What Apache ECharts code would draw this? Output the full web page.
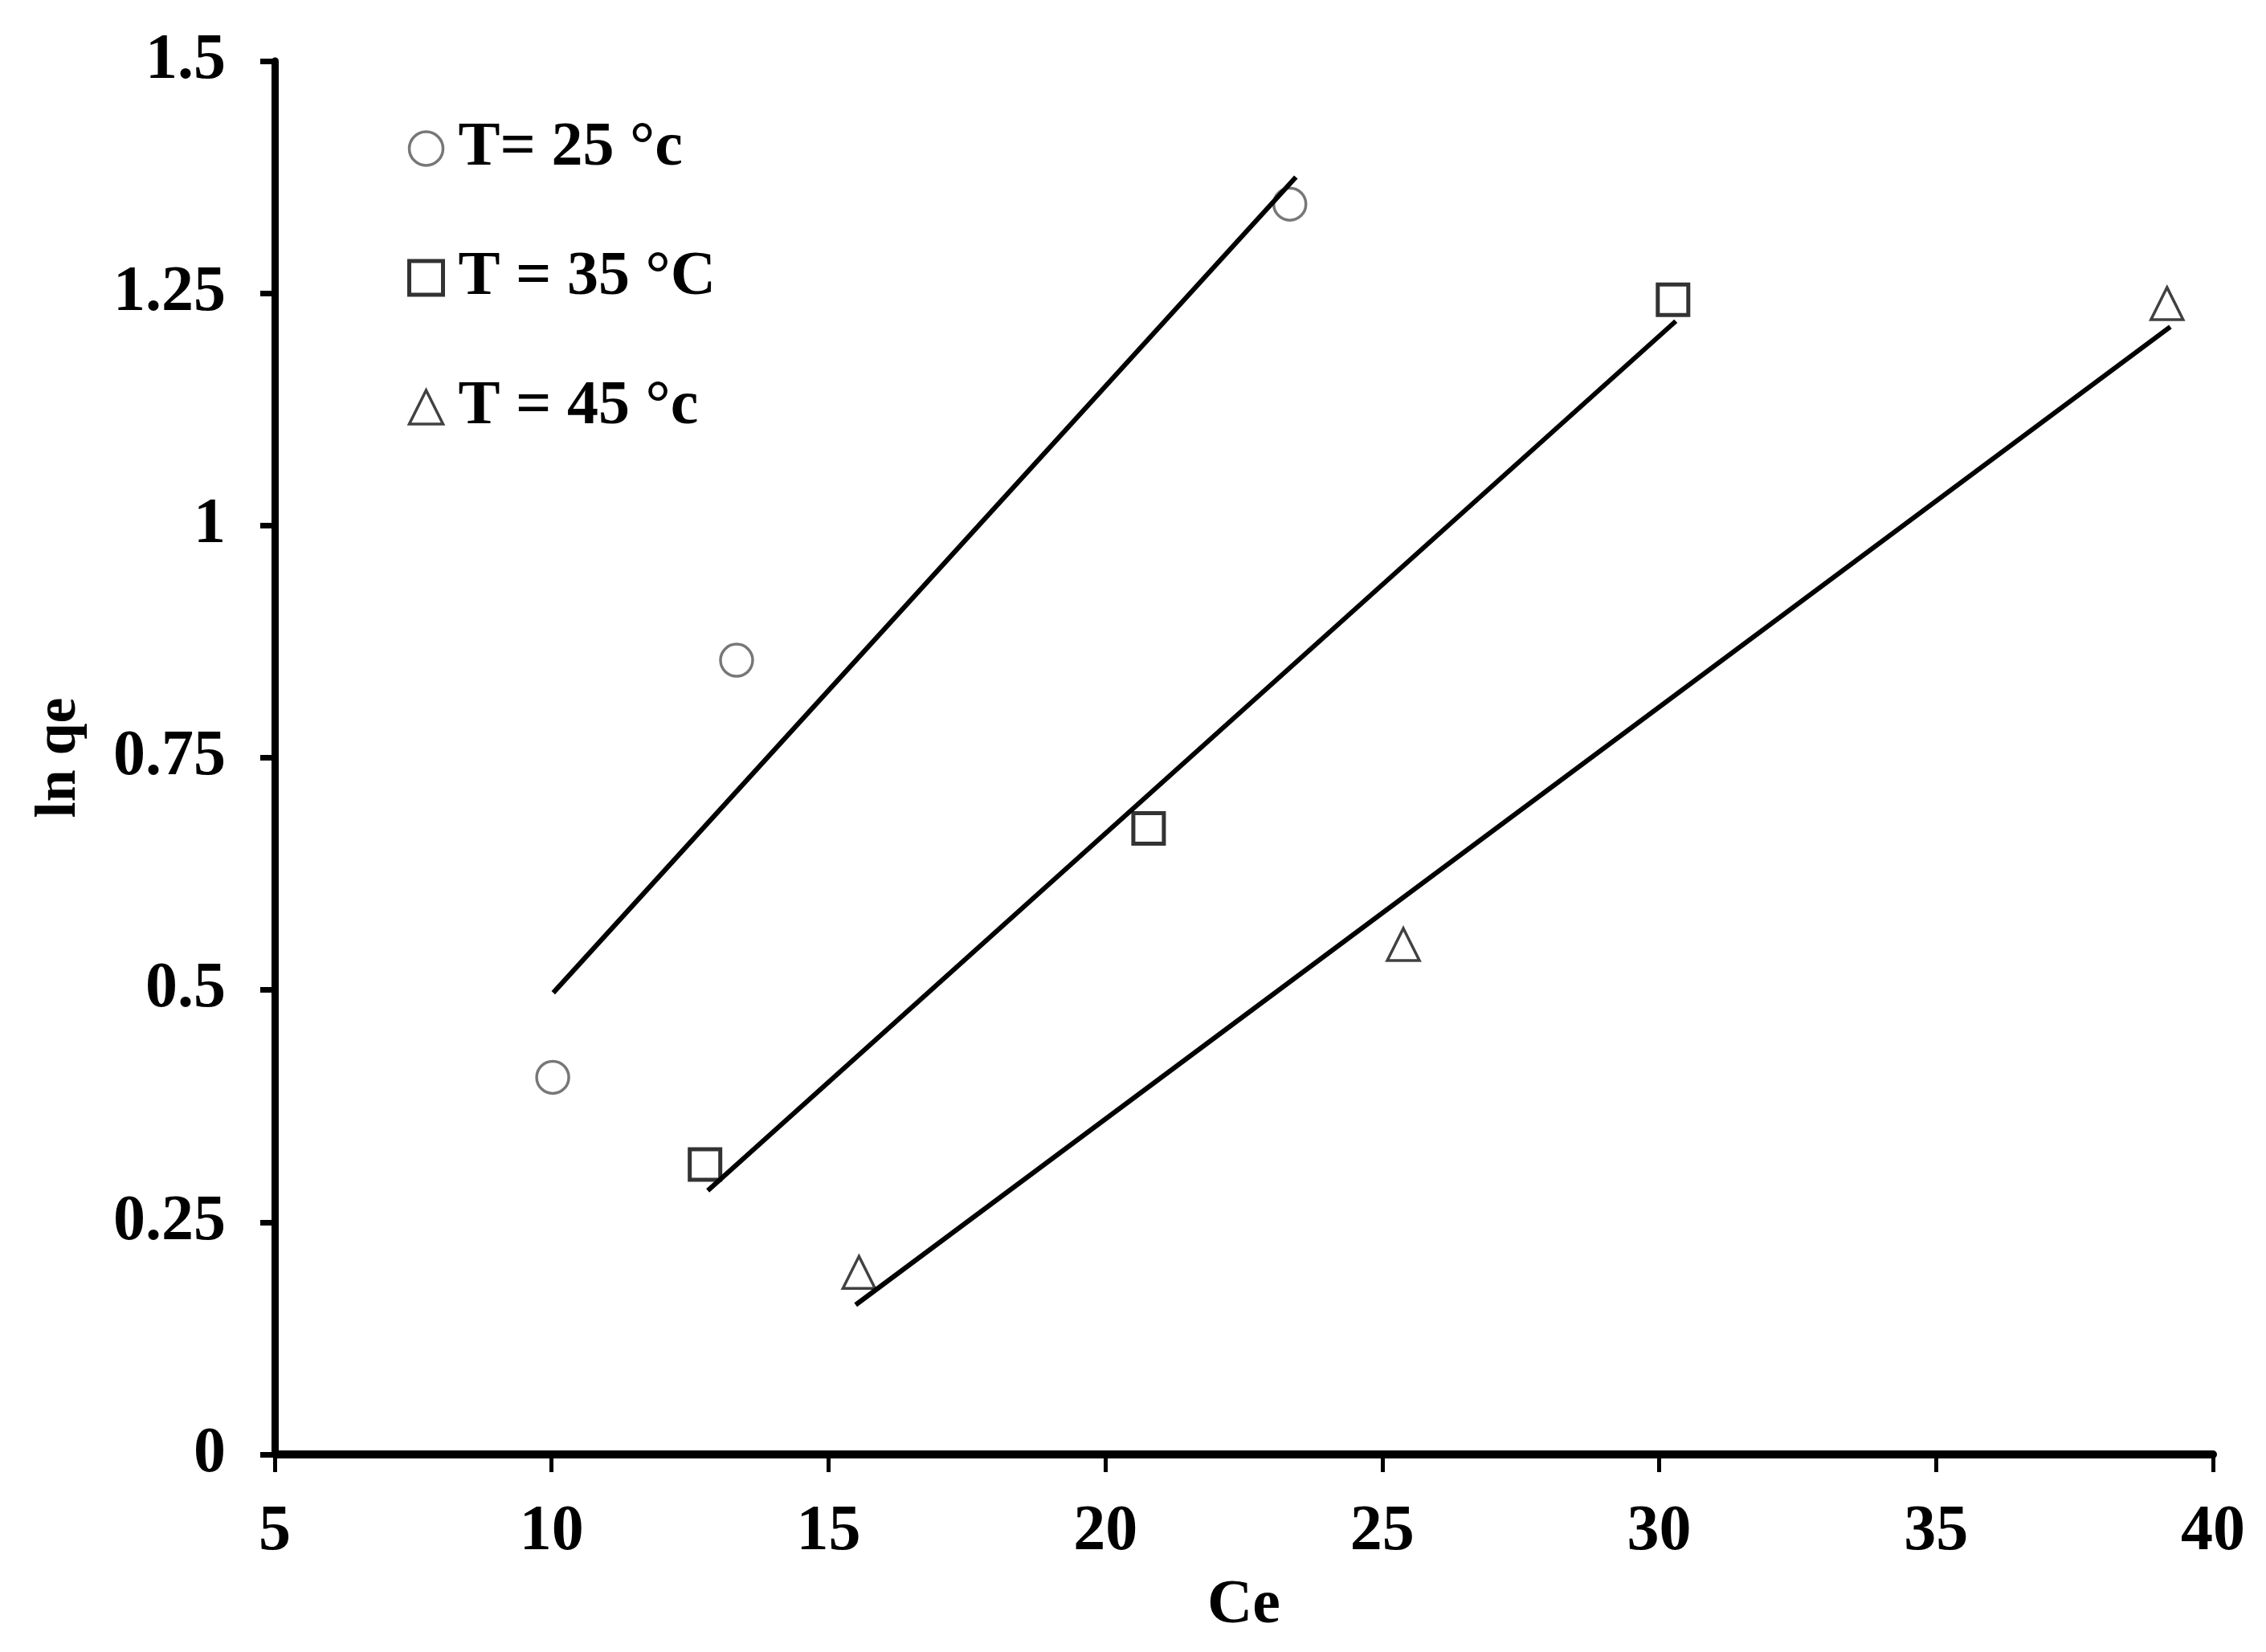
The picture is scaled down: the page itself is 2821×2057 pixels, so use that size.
<!DOCTYPE html>
<html>
<head>
    <meta charset="utf-8">
    <title>ln qe vs Ce</title>
    <script src="https://cdn.jsdelivr.net/npm/echarts@6/dist/echarts.min.js"></script>
    <style>
        html, body { margin: 0; padding: 0; background: #fff; }
        #chart { width: 2821px; height: 2057px; }
    </style>
</head>
<body>
<div id="chart"></div>
<script>
    // 数据：读自原图
    var names = ['T= 25 °c', 'T = 35 °C', 'T = 45 °c'];

    var ce25 = [10.02, 13.34, 23.33];
    var lnqe25 = [0.406, 0.855, 1.346];
    var ce35 = [12.77, 20.78, 30.25];
    var lnqe35 = [0.312, 0.674, 1.243];
    var ce45 = [15.55, 25.38, 39.17];
    var lnqe45 = [0.196, 0.549, 1.239];

    // 拟合直线的两个端点
    var fit25X = [10.03, 23.44];
    var fit25Y = [0.497, 1.375];
    var fit35X = [12.82, 30.30];
    var fit35Y = [0.284, 1.220];
    var fit45X = [15.49, 39.23];
    var fit45Y = [0.161, 1.214];

    var xTicks = [5, 10, 15, 20, 25, 30, 35, 40];
    var yTicks = [0, 0.25, 0.5, 0.75, 1, 1.25, 1.5];

    function pairs(xs, ys) {
        return xs.map(function (x, i) { return [x, ys[i]]; });
    }

    var font = 'Liberation Serif';
    var symbols = ['circle', 'rect', 'triangle'];
    var markStyles = [
        {color: '#fff', borderColor: '#555', borderWidth: 3.5},
        {color: '#fff', borderColor: '#000', borderWidth: 5},
        {color: '#fff', borderColor: '#111', borderWidth: 3.5}
    ];
    var sizes = [40, 38, 40];
    var pts = [pairs(ce25, lnqe25), pairs(ce35, lnqe35), pairs(ce45, lnqe45)];
    var fits = [pairs(fit25X, fit25Y), pairs(fit35X, fit35Y), pairs(fit45X, fit45Y)];

    var series = [];
    for (var i = 0; i < 3; i++) {
        series.push({
            name: names[i],
            type: 'scatter',
            data: pts[i],
            symbol: symbols[i],
            symbolSize: sizes[i],
            itemStyle: markStyles[i],
            z: 2
        });
        series.push({
            name: 'fit' + i,
            type: 'line',
            data: fits[i],
            symbol: 'none',
            lineStyle: {color: '#000', width: 6},
            z: 3
        });
    }

    var myChart = echarts.init(document.getElementById('chart'));
    myChart.setOption({
        backgroundColor: '#fff',
        animation: false,
        grid: {left: 342, right: 66, top: 76, bottom: 246},
        legend: {
            orient: 'vertical',
            left: 502,
            top: 140,
            itemWidth: 42,
            itemHeight: 42,
            itemGap: 81,
            data: names.map(function (n, i) {
                return {name: n, icon: symbols[i], itemStyle: markStyles[i]};
            }),
            textStyle: {
                fontFamily: font, fontWeight: 'bold', fontSize: 78,
                color: '#000', lineHeight: 80, padding: [0, 0, 0, 14]
            }
        },
        xAxis: {
            type: 'value',
            min: xTicks[0],
            max: xTicks[xTicks.length - 1],
            interval: 5,
            name: 'Ce',
            nameLocation: 'middle',
            nameGap: 150,
            nameTextStyle: {fontFamily: font, fontWeight: 'bold', fontSize: 78, color: '#000'},
            axisLine: {lineStyle: {color: '#000', width: 10}},
            axisTick: {show: true, inside: false, length: 22, lineStyle: {color: '#000', width: 5}},
            axisLabel: {fontFamily: font, fontWeight: 'bold', fontSize: 80, color: '#000', margin: 57},
            splitLine: {show: false}
        },
        yAxis: {
            type: 'value',
            min: yTicks[0],
            max: yTicks[yTicks.length - 1],
            interval: 0.25,
            name: 'ln qe',
            nameLocation: 'middle',
            nameGap: 232,
            nameTextStyle: {fontFamily: font, fontWeight: 'bold', fontSize: 72, color: '#000'},
            axisLine: {lineStyle: {color: '#000', width: 9}},
            axisTick: {show: true, inside: false, length: 18, lineStyle: {color: '#000', width: 7}},
            axisLabel: {fontFamily: font, fontWeight: 'bold', fontSize: 80, color: '#000', margin: 61},
            splitLine: {show: false}
        },
        series: series
    });
</script>
</body>
</html>
